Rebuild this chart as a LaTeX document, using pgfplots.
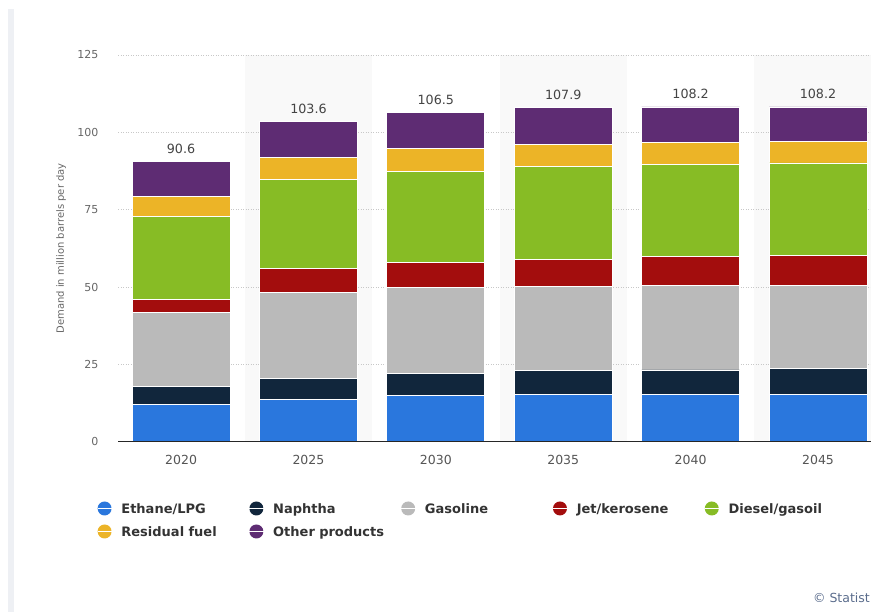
\documentclass[border=0pt]{standalone}
\usepackage{fontspec}
\setmainfont{DejaVu Sans}
\usepackage{pgfplots}
\usepackage{pgfplotstable}
\pgfplotsset{compat=1.18}
\definecolor{cE}{HTML}{2A77DD}
\definecolor{cN}{HTML}{11263C}
\definecolor{cG}{HTML}{BABABA}
\definecolor{cJ}{HTML}{A30D0D}
\definecolor{cD}{HTML}{87BC25}
\definecolor{cR}{HTML}{ECB427}
\definecolor{cO}{HTML}{5E2C73}
\definecolor{band}{HTML}{F9F9F9}
\definecolor{strip}{HTML}{EEF0F4}
\definecolor{gridc}{HTML}{C8C8C8}
\definecolor{tickc}{HTML}{666666}
\definecolor{xtc}{HTML}{555555}
\definecolor{legc}{HTML}{333333}
\definecolor{valc}{HTML}{444444}
\definecolor{credit}{HTML}{5A6C8C}

\pgfplotstableread{
x E N G J D R O T
0 12.1 5.9 23.9 4.2 26.6 6.6 11.3 90.6
1 13.8 6.7 27.7 7.8 28.8 7.2 11.6 103.6
2 15.0 7.1 27.7 8.2 29.3 7.4 11.8 106.5
3 15.4 7.5 27.2 8.9 29.9 7.3 11.7 107.9
4 15.4 7.8 27.3 9.4 29.6 7.1 11.6 108.2
5 15.4 8.2 27.0 9.7 29.8 7.0 11.1 108.2
}\demand

\pgfplotsset{
  frame/.style={scale only axis, width=753pt, height=386.7pt,
    at={(118pt,170.3pt)}, anchor=south west,
    xmin=-0.495, xmax=5.416, ymin=0, ymax=125},
}

\begin{document}
\begin{tikzpicture}
\useasboundingbox (0,0) rectangle (871pt,612pt);
\fill[strip] (8pt,0pt) rectangle (14pt,603pt);
% background bands
\begin{axis}[frame, hide axis]
\fill[band] (axis cs:0.5,0) rectangle (axis cs:1.5,125);
\fill[band] (axis cs:2.5,0) rectangle (axis cs:3.5,125);
\fill[band] (axis cs:4.5,0) rectangle (axis cs:5.416,125);
\end{axis}
\begin{axis}[
  frame,
  ybar stacked, bar width=98pt,
  axis line style={draw=none},
  major tick length=0pt,
  /pgf/number format/assume math mode=true,
  ytick={0,25,50,75,100,125},
  yticklabel style={font=\fontsize{11}{13}\selectfont, text=tickc, xshift=-16pt},
  xtick={0,1,2,3,4,5},
  xticklabels={2020,2025,2030,2035,2040,2045},
  xticklabel style={font=\fontsize{12.5}{14}\selectfont, text=xtc, yshift=-9.5pt},
  ymajorgrids,
  major grid style={gridc, line width=0.6pt, dash pattern=on 1pt off 1.5pt},
  ylabel={Demand in million barrels per day},
  ylabel style={font=\fontsize{10}{12}\selectfont, text=tickc, at={(axis description cs:-0.0757,0.5)}, anchor=center},
  legend columns=5,
  legend cell align=left,
  legend style={draw=none, fill=none, inner sep=0pt,
    at={(axis description cs:-0.0279,-0.1541)}, anchor=north west,
    font=\fontsize{13}{15}\selectfont\bfseries, text=legc,
    nodes={inner sep=0pt, text width=127.6pt, align=left},
    row sep=9pt},
  legend image code/.code={\fill[#1, draw=none] (7pt,1pt) circle (7pt); \path (0pt,1pt) -- (23.4pt,1pt);},
  every axis plot/.append style={draw=white, line width=0.8pt},
]
\addplot[fill=cE] table[x=x,y=E]{\demand};
\addplot[fill=cN] table[x=x,y=N]{\demand};
\addplot[fill=cG] table[x=x,y=G]{\demand};
\addplot[fill=cJ] table[x=x,y=J]{\demand};
\addplot[fill=cD] table[x=x,y=D]{\demand};
\addplot[fill=cR] table[x=x,y=R]{\demand};
\addplot[fill=cO] table[x=x,y=O]{\demand};
\legend{Ethane/LPG,Naphtha,Gasoline,Jet/kerosene,Diesel/gasoil,Residual fuel,Other products}
\end{axis}
% totals above the bars
\begin{axis}[frame, hide axis, ybar, bar width=98pt,
  /pgf/number format/assume math mode=true]
\addplot[draw=none, fill=none,
  nodes near coords={\pgfmathprintnumber[fixed,fixed zerofill,precision=1]{\pgfplotspointmeta}},
  every node near coord/.append style={font=\fontsize{12.7}{14}\selectfont, text=valc, anchor=center, inner sep=0pt, yshift=12.7pt}]
  table[x=x,y=T]{\demand};
\end{axis}
\draw[black!85, line width=1pt] (118pt,170.3pt) -- (871pt,170.3pt);
\node[anchor=east, text=credit, font=\fontsize{12.5}{14}\selectfont, inner sep=0pt] at (870pt,14pt) {© Statist};
\end{tikzpicture}
\end{document}
